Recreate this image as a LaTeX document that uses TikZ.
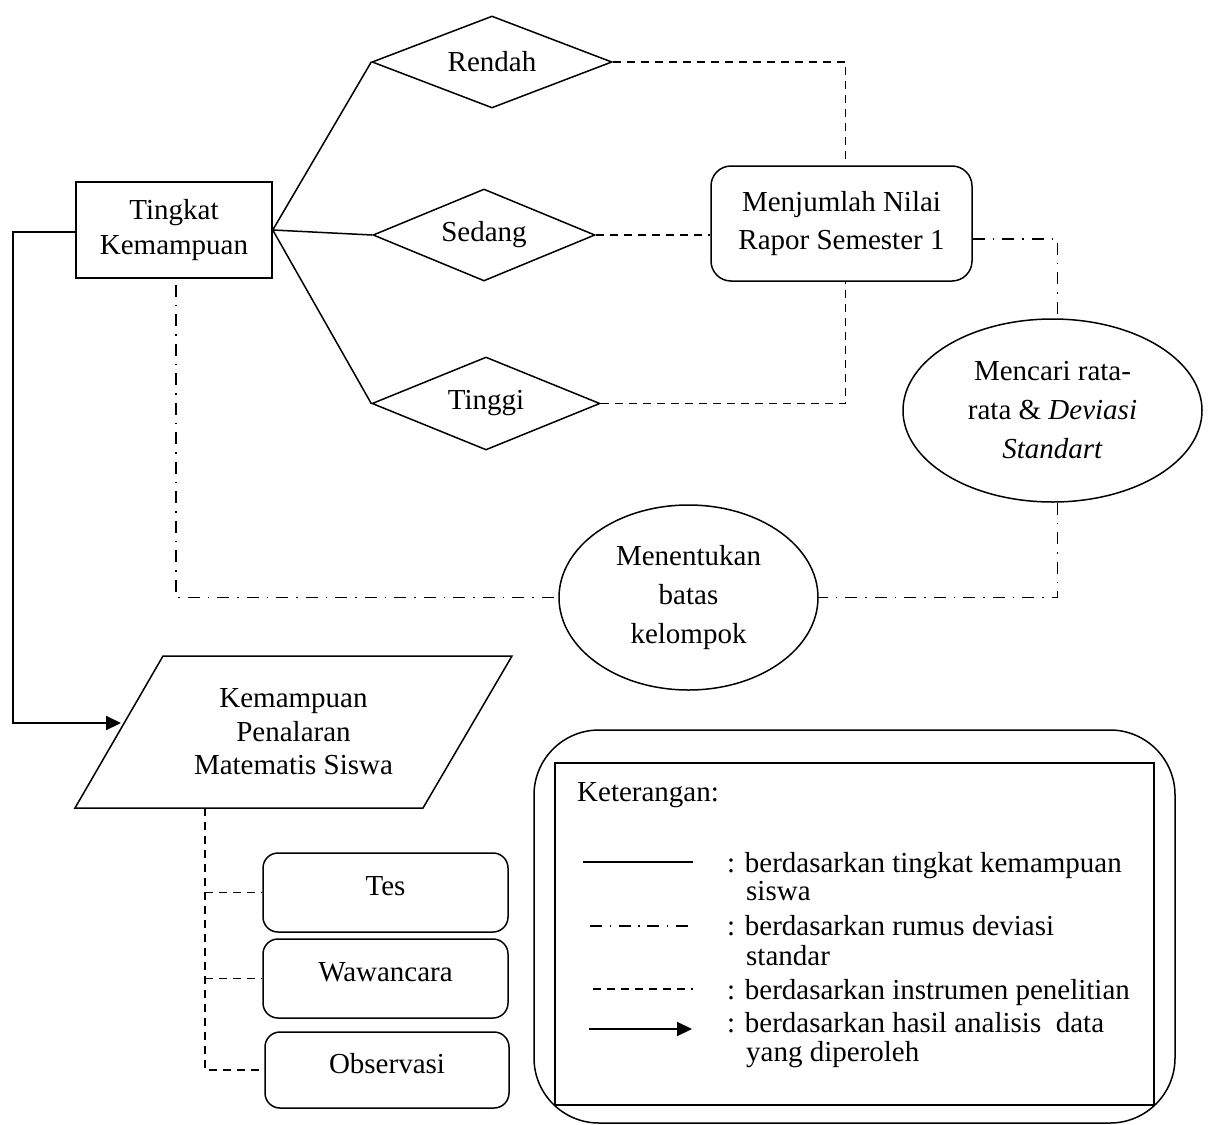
\documentclass[tikz,border=0pt]{standalone}
\usepackage{fontspec}
\setmainfont{Liberation Serif}
\usetikzlibrary{shapes.geometric,arrows.meta}
\newcommand{\myfs}[1]{\fontsize{29}{#1}\selectfont}
\begin{document}
\begin{tikzpicture}[x=1pt,y=-1pt,
  base/.style={line width=1.5pt},
  dsh/.style={line width=1.5pt, dash pattern=on 8pt off 6pt},
  dd/.style={line width=1.5pt, dash pattern=on 12pt off 8pt on 1.5pt off 8pt},
  thk/.style={line width=2.1pt},
  txt/.style={font=\myfs{35}, align=center, inner sep=0pt},
  boxn/.style={draw, base, txt},
  dia/.style={draw, base, diamond, aspect=2.6, inner sep=0pt, font=\myfs{35}},
  ell/.style={draw, base, ellipse, inner sep=0pt, align=center},
  rbox/.style={draw, base, rounded corners=15pt, minimum width=245pt, txt, text height=20pt, text depth=14pt},
  leg/.style={anchor=base west, inner sep=0pt, font=\myfs{35}},
  arr/.style={thk, -{Triangle[length=15pt,width=14pt]}}
]
\useasboundingbox (0,0) rectangle (1209,1124);

% main nodes
\node[boxn, minimum width=196pt, minimum height=96pt, font=\myfs{35}] (tk) at (174,230) {Tingkat\\Kemampuan};
\node[dia, minimum width=240pt, minimum height=92pt] (rendah) at (492,62) {Rendah};
\node[dia, minimum width=222pt, minimum height=92pt] (sedang) at (484,235) {Sedang};
\node[dia, minimum width=228pt, minimum height=93pt] (tinggi) at (486,403.5) {Tinggi};
\node[boxn, rounded corners=20pt, minimum width=261pt, minimum height=115pt, font=\myfs{38}] (mj) at (841.5,223.5) {Menjumlah Nilai\\Rapor Semester 1};
\node[ell, minimum width=299pt, minimum height=183pt, font=\myfs{39}] (mc) at (1052.5,410.5) {Mencari rata-\\rata \& \textit{Deviasi}\\\textit{Standart}};
\node[ell, minimum width=259pt, minimum height=185pt, font=\myfs{39}] (mt) at (688.5,597.5) {Menentukan\\batas\\kelompok};

% parallelogram
\coordinate (p1) at (163,656);
\coordinate (p2) at (512,656);
\coordinate (p3) at (423,808);
\coordinate (p4) at (75,808);
\draw[base] (p1) -- (p2) -- (p3) -- (p4) -- cycle;
\node[txt, font=\myfs{33.5}] (par) at (293.5,732) {Kemampuan\\Penalaran\\Matematis Siswa};
\coordinate (parin) at (121,723);
\coordinate (cL) at (13,723);
\coordinate (pb) at (205,808);

% instrument boxes
\node[rbox, minimum height=79pt] (tes) at (385.5,892.5) {Tes};
\node[rbox, minimum height=79pt] (waw) at (385.5,978.5) {Wawancara};
\node[rbox, minimum width=244pt, minimum height=76pt] (obs) at (387,1070) {Observasi};

% connectors: solid
\draw[base] (tk.east) -- (rendah.west);
\draw[base] (tk.east) -- (sedang.west);
\draw[base] (tk.east) -- (tinggi.west);
\draw[arr] ([yshift=-2pt]tk.west) -| (cL) -- (parin);

% connectors: dashed
\draw[dsh] (rendah.east) -| ([xshift=4pt]mj.north);
\draw[dsh] (sedang.east) -- (sedang.east -| mj.west);
\draw[dsh] (tinggi.east) -| ([xshift=4pt]mj.south);
\draw[dsh] (pb) |- (obs.west);
\draw[dsh] (pb |- tes.west) -- (tes.west);
\draw[dsh] (pb |- waw.west) -- (waw.west);

% connectors: dash-dot
\draw[dd] ([yshift=-15.5pt]mj.east) -| ([xshift=5pt]mc.north);
\draw[dd] ([xshift=5pt]mc.south) |- (mt.east);
\draw[dd] ([xshift=2pt,yshift=-6pt]tk.south) |- (mt.west);

% legend
\node[draw, base, rounded corners=65pt, minimum width=641pt, minimum height=393pt] (legout) at (854.5,926.5) {};
\node[draw, base, minimum width=599pt, minimum height=342pt] (legin) at (854.5,934) {};
\node[leg] (k0) at (577,801) {Keterangan:};
\node[leg] (l1) at (727,872) {: berdasarkan tingkat kemampuan};
\node[leg] (l1b) at (746,900) {siswa};
\node[leg] (l2) at (727,935) {: berdasarkan rumus deviasi};
\node[leg] (l2b) at (746,965) {standar};
\node[leg] (l3) at (727,999) {: berdasarkan instrumen penelitian};
\node[leg] (l4) at (727,1032) {: berdasarkan hasil analisis\ \ data};
\node[leg] (l4b) at (746,1061) {yang diperoleh};

\coordinate (s1a) at (583,862); \coordinate (s1b) at (693,862);
\coordinate (s2a) at (590,926); \coordinate (s2b) at (693,926);
\coordinate (s3a) at (593,989); \coordinate (s3b) at (693,989);
\coordinate (s4a) at (589,1029); \coordinate (s4b) at (692,1029);
\draw[base] (s1a) -- (s1b);
\draw[line width=1.5pt, dash pattern=on 12pt off 7.5pt on 1.5pt off 7.5pt] (s2a) -- (s2b);
\draw[dsh] (s3a) -- (s3b);
\draw[arr] (s4a) -- (s4b);
\end{tikzpicture}
\end{document}
